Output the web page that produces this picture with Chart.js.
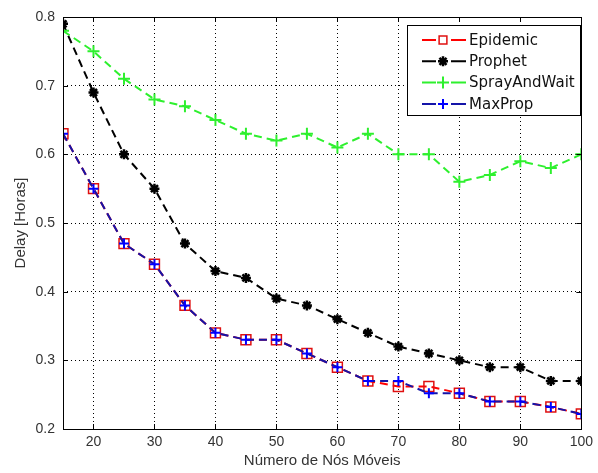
<!DOCTYPE html>
<html>
<head>
<meta charset="utf-8">
<script src="https://cdn.jsdelivr.net/npm/chart.js@4.4.0/dist/chart.umd.min.js"></script>
<style>
  html, body { margin: 0; padding: 0; background: #fff; }
  #wrap { width: 598px; height: 473px; }
</style>
</head>
<body>
<div id="wrap"><canvas id="myChart" width="598" height="473"></canvas></div>
<script>
// dados
const nodes = [15, 20, 25, 30, 35, 40, 45, 50, 55, 60, 65, 70, 75, 80, 85, 90, 95, 100];
const epidemic = [0.63, 0.55, 0.47, 0.44, 0.38, 0.34, 0.33, 0.33, 0.31, 0.29, 0.27, 0.262, 0.262, 0.252, 0.24, 0.24, 0.232, 0.222];
const prophet = [0.79, 0.69, 0.60, 0.55, 0.47, 0.43, 0.42, 0.39, 0.38, 0.36, 0.34, 0.32, 0.31, 0.30, 0.29, 0.29, 0.27, 0.27];
const sprayAndWait = [0.78, 0.75, 0.71, 0.68, 0.67, 0.65, 0.63, 0.62, 0.63, 0.61, 0.63, 0.60, 0.60, 0.56, 0.57, 0.59, 0.58, 0.60];
const maxProp = [0.63, 0.55, 0.47, 0.44, 0.38, 0.34, 0.33, 0.33, 0.31, 0.29, 0.27, 0.27, 0.252, 0.252, 0.24, 0.24, 0.232, 0.222];
const xTicks = [20, 30, 40, 50, 60, 70, 80, 90, 100];
const yTicks = [0.2, 0.3, 0.4, 0.5, 0.6, 0.7, 0.8];

const FONT = '"Liberation Sans", Arial, sans-serif';
const pts = arr => arr.map((v, i) => ({x: nodes[i], y: v}));

// legenda estilo MATLAB + marcas internas nos eixos
const matlabPlugin = {
    id: 'matlab',
    afterDraw(chart) {
        const ctx = chart.ctx;
        const a = chart.chartArea;
        const xs = chart.scales.x, ys = chart.scales.y;
        ctx.save();
        // ticks para dentro
        ctx.strokeStyle = '#000';
        ctx.lineWidth = 1;
        ctx.beginPath();
        for (const v of xTicks) {
            const px = Math.round(xs.getPixelForValue(v)) + 0.5;
            ctx.moveTo(px, a.bottom); ctx.lineTo(px, a.bottom - 5);
            ctx.moveTo(px, a.top); ctx.lineTo(px, a.top + 5);
        }
        for (const v of yTicks) {
            const py = Math.round(ys.getPixelForValue(v)) + 0.5;
            ctx.moveTo(a.left, py); ctx.lineTo(a.left + 5, py);
            ctx.moveTo(a.right, py); ctx.lineTo(a.right - 5, py);
        }
        ctx.stroke();
        ctx.strokeRect(Math.round(a.left) + 0.5, Math.round(a.top) + 0.5,
            Math.round(a.right - a.left), Math.round(a.bottom - a.top));

        // caixa da legenda
        const bx = 407.5, by = 25.5, bw = 173, bh = 90;
        ctx.fillStyle = '#fff';
        ctx.fillRect(bx, by, bw, bh);
        ctx.strokeStyle = '#000';
        ctx.strokeRect(bx, by, bw, bh);
        ctx.font = '15px "DejaVu Sans", sans-serif';
        ctx.textBaseline = 'middle';
        chart.data.datasets.forEach((ds, i) => {
            const y = 40 + i * 21.3;
            ctx.save();
            ctx.strokeStyle = ds.borderColor;
            ctx.lineWidth = 2;
            ctx.beginPath();
            ctx.moveTo(422, y); ctx.lineTo(436, y);
            ctx.moveTo(451, y); ctx.lineTo(466, y);
            ctx.stroke();
            ctx.restore();
            ctx.save();
            ctx.strokeStyle = ds.pointBorderColor;
            ctx.fillStyle = ds.pointBackgroundColor;
            ctx.lineWidth = ds.pointBorderWidth;
            const r = ds.pointStyle === 'rect' ? 5.5 : ds.pointRadius;
            Chart.helpers.drawPoint(ctx, {pointStyle: ds.pointStyle, radius: r, rotation: 0, borderWidth: ds.pointBorderWidth}, 443, y);
            ctx.restore();
            ctx.fillStyle = '#111';
            ctx.fillText(ds.label, 469, y + 1);
        });
        ctx.restore();
    }
};

const ctx = document.getElementById('myChart').getContext('2d');
const myChart = new Chart(ctx, {
    type: 'line',
    data: {
        datasets: [{
            label: 'Epidemic',
            data: pts(epidemic),
            borderColor: '#ff0000',
            borderWidth: 2,
            borderDash: [8, 5],
            pointStyle: 'rect',
            pointRadius: 7,
            pointBorderWidth: 1.5,
            pointBorderColor: '#e01010',
            pointBackgroundColor: 'rgba(0,0,0,0)',
            order: 3
        }, {
            label: 'Prophet',
            data: pts(prophet),
            borderColor: '#000000',
            borderWidth: 2,
            borderDash: [8, 5],
            pointStyle: 'star',
            pointRadius: 5,
            pointBorderWidth: 2.5,
            pointBorderColor: '#000000',
            pointBackgroundColor: '#000000',
            order: 2
        }, {
            label: 'SprayAndWait',
            data: pts(sprayAndWait),
            borderColor: '#2ef02e',
            borderWidth: 2,
            borderDash: [8, 5],
            pointStyle: 'cross',
            pointRadius: 6,
            pointBorderWidth: 2,
            pointBorderColor: '#2ef02e',
            pointBackgroundColor: '#2ef02e',
            order: 1
        }, {
            label: 'MaxProp',
            data: pts(maxProp),
            borderColor: '#1414a8',
            borderWidth: 2,
            borderDash: [8, 5],
            pointStyle: 'cross',
            pointRadius: 5,
            pointBorderWidth: 2,
            pointBorderColor: '#0000ff',
            pointBackgroundColor: '#0000ff',
            order: 0
        }]
    },
    options: {
        responsive: false,
        animation: false,
        layout: { padding: { top: 17, right: 15, left: 0, bottom: 0 } },
        plugins: { legend: { display: false }, tooltip: { enabled: false } },
        elements: { line: { tension: 0 } },
        scales: {
            x: {
                type: 'linear',
                min: 15,
                max: 100,
                afterBuildTicks: s => { s.ticks = xTicks.map(v => ({value: v})); },
                afterFit: s => { s.height = 44; },
                ticks: { color: '#333', font: { family: FONT, size: 14 }, padding: 5, autoSkip: false, maxRotation: 0 },
                grid: { color: '#000', lineWidth: 1, drawTicks: false },
                border: { display: false, dash: [1, 3] },
                title: { display: true, text: 'Número de Nós Móveis', color: '#333', font: { family: FONT, size: 15 }, padding: { top: 0, bottom: 3 } }
            },
            y: {
                min: 0.2,
                max: 0.8,
                afterBuildTicks: s => { s.ticks = yTicks.map(v => ({value: v})); },
                afterFit: s => { s.width = 63; },
                ticks: { color: '#333', font: { family: FONT, size: 14 }, padding: 8, callback: v => v.toFixed(1) },
                grid: { color: '#000', lineWidth: 1, drawTicks: false },
                border: { display: false, dash: [1, 3] },
                title: { display: true, text: 'Delay [Horas]', color: '#333', font: { family: FONT, size: 15 }, padding: { top: 12, bottom: 0 } }
            }
        }
    },
    plugins: [matlabPlugin]
});
</script>
</body>
</html>
